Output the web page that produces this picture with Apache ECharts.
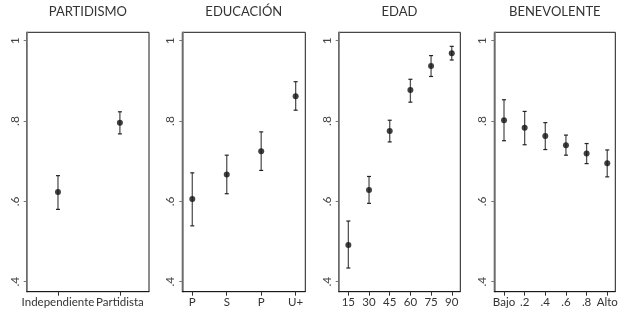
<!DOCTYPE html>
<html>
<head>
<meta charset="utf-8">
<script src="https://cdn.jsdelivr.net/npm/echarts@6/dist/echarts.min.js"></script>
<style>
  html, body { margin: 0; padding: 0; background: #fff; }
  #chart { width: 624px; height: 313px; }
</style>
</head>
<body>
<div id="chart"></div>
<script>
// panel titles
const titles = ['PARTIDISMO', 'EDUCACIÓN', 'EDAD', 'BENEVOLENTE'];

// partidismo
const partidismoCats = ['Independiente', 'Partidista'];
const partidismoMid = [0.623, 0.796];
const partidismoLo = [0.580, 0.768];
const partidismoHi = [0.664, 0.823];

// educacion
const educacionCats = ['P', 'S', 'P', 'U+'];
const educacionMid = [0.606, 0.667, 0.725, 0.862];
const educacionLo = [0.539, 0.619, 0.677, 0.827];
const educacionHi = [0.671, 0.715, 0.773, 0.898];

// edad (x is age)
const edadAges = [15, 30, 45, 60, 75, 90];
const edadMid = [0.491, 0.628, 0.775, 0.877, 0.937, 0.969];
const edadLo = [0.434, 0.595, 0.748, 0.847, 0.911, 0.952];
const edadHi = [0.551, 0.662, 0.802, 0.904, 0.963, 0.986];

// benevolente
const benevCats = ['Bajo', '.2', '.4', '.6', '.8', 'Alto'];
const benevMid = [0.802, 0.783, 0.763, 0.740, 0.719, 0.695];
const benevLo = [0.751, 0.741, 0.729, 0.715, 0.694, 0.661];
const benevHi = [0.853, 0.824, 0.796, 0.765, 0.744, 0.728];

const yTicks = [0.4, 0.6, 0.8, 1];

const FONT = 'Lato';

const panels = [
  { xs: partidismoCats.map((_, i) => i + 1), labels: partidismoCats, mid: partidismoMid, lo: partidismoLo, hi: partidismoHi,
    left: 26.7, width: 122.3, xmin: 0.495, xmax: 2.47 },
  { xs: educacionCats.map((_, i) => i + 1), labels: educacionCats, mid: educacionMid, lo: educacionLo, hi: educacionHi,
    left: 182.3, width: 123, xmin: 0.71, xmax: 4.28 },
  { xs: edadAges, labels: edadAges.map(String), mid: edadMid, lo: edadLo, hi: edadHi,
    left: 338.7, width: 121.6, xmin: 8.0, xmax: 96.2 },
  { xs: benevCats.map((_, i) => i + 1), labels: benevCats, mid: benevMid, lo: benevLo, hi: benevHi,
    left: 494.3, width: 121, xmin: 0.53, xmax: 6.39 },
];

const TOP = 32.3;
const HEIGHT = 259.4;

const grid = [];
const xAxis = [];
const yAxis = [];
const series = [];
const graphic = [];

panels.forEach((p, k) => {
  grid.push({
    left: p.left, top: TOP, width: p.width, height: HEIGHT,
    show: true, borderColor: '#1a1a1a', borderWidth: 1, backgroundColor: '#fff',
  });
  xAxis.push({
    gridIndex: k, type: 'value', min: p.xmin, max: p.xmax,
    splitLine: { show: false },
    axisLine: { show: true, onZero: false, lineStyle: { color: '#1a1a1a', width: 1 } },
    axisTick: { show: true, customValues: p.xs, length: 4, lineStyle: { color: '#333' } },
    axisLabel: {
      customValues: p.xs, margin: 5, color: '#333', fontFamily: FONT, fontSize: 11.5,
      showMinLabel: true, showMaxLabel: true, hideOverlap: false,
      formatter: (v) => p.labels[p.xs.indexOf(v)],
    },
  });
  yAxis.push({
    gridIndex: k, type: 'value', min: 0.375, max: 1.021,
    splitLine: { show: false },
    axisLine: { show: true, onZero: false, lineStyle: { color: '#777', width: 1.5 } },
    axisTick: { show: true, customValues: yTicks, length: 3, lineStyle: { color: '#777' } },
    axisLabel: {
      customValues: yTicks, rotate: 90, margin: 6, color: '#444', fontFamily: FONT, fontSize: 12,
      showMinLabel: true, showMaxLabel: true, hideOverlap: false,
      formatter: (v) => (v === 1 ? '1' : String(v).replace(/^0/, '')),
    },
  });
  series.push({
    type: 'custom', xAxisIndex: k, yAxisIndex: k,
    data: p.xs.map((x, i) => [x, p.lo[i], p.hi[i]]),
    renderItem: (params, api) => {
      const top = api.coord([api.value(0), api.value(2)]);
      const bot = api.coord([api.value(0), api.value(1)]);
      const cap = 2;
      return {
        type: 'group',
        children: [
          { type: 'line', shape: { x1: top[0], y1: top[1], x2: bot[0], y2: bot[1] },
            style: { stroke: '#555', lineWidth: 1.3 } },
          { type: 'line', shape: { x1: top[0] - cap, y1: top[1], x2: top[0] + cap, y2: top[1] },
            style: { stroke: '#222', lineWidth: 1.2 } },
          { type: 'line', shape: { x1: bot[0] - cap, y1: bot[1], x2: bot[0] + cap, y2: bot[1] },
            style: { stroke: '#222', lineWidth: 1.2 } },
        ],
      };
    },
    z: 2,
  });
  series.push({
    type: 'scatter', xAxisIndex: k, yAxisIndex: k,
    data: p.xs.map((x, i) => [x, p.mid[i]]),
    symbol: 'circle', symbolSize: 6,
    itemStyle: { color: '#111' },
    z: 3,
  });
  graphic.push({
    type: 'text', x: p.left + p.width / 2, y: 12,
    style: {
      text: titles[k], fill: '#333', font: `13px ${FONT}`,
      align: 'center', verticalAlign: 'middle',
    },
  });
});

const chart = echarts.init(document.getElementById('chart'), null, { renderer: 'canvas' });
chart.setOption({
  animation: false,
  backgroundColor: '#fff',
  grid, xAxis, yAxis, series, graphic,
});
</script>
</body>
</html>
